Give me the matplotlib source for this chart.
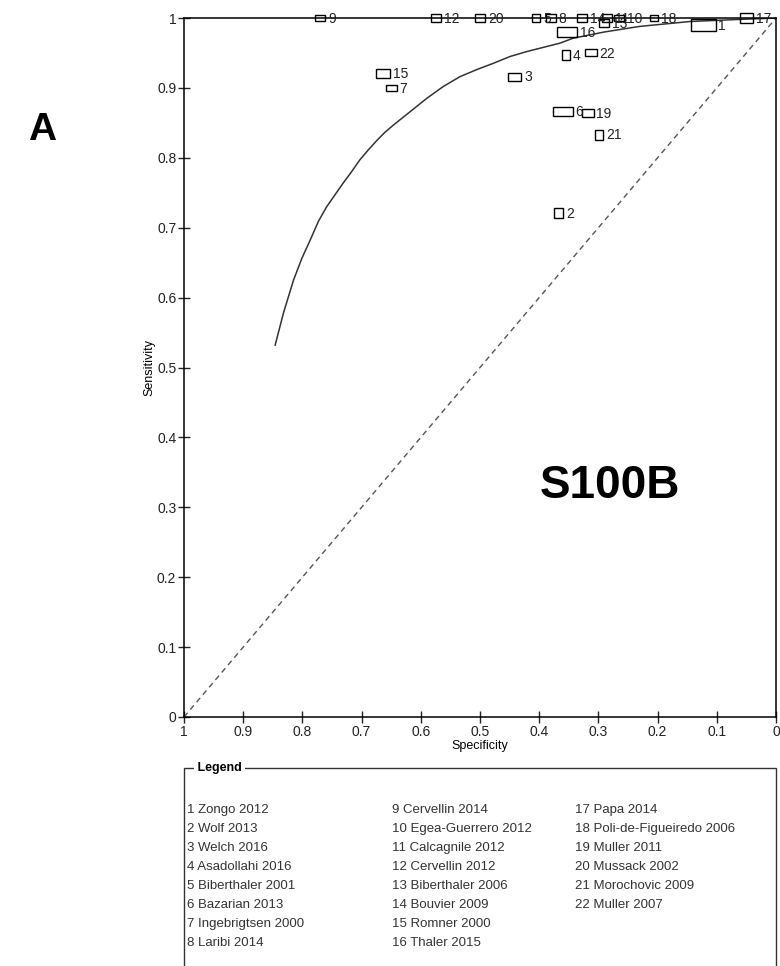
import matplotlib
matplotlib.use("Agg")
import matplotlib.pyplot as plt
from matplotlib.patches import Rectangle

plt.rcParams["font.family"] = ["Liberation Sans", "DejaVu Sans"]

# study estimates
STUDY_IDS = list(range(1, 23))
SPECIFICITY = [0.123, 0.367, 0.441, 0.355, 0.405, 0.360, 0.650, 0.380, 0.770, 0.265, 0.285,
               0.574, 0.290, 0.328, 0.664, 0.353, 0.050, 0.206, 0.318, 0.500, 0.299, 0.313]
SENSITIVITY = [0.990, 0.721, 0.916, 0.947, 1.000, 0.866, 0.900, 1.000, 1.000, 1.000, 1.000,
               1.000, 0.993, 1.000, 0.921, 0.980, 1.000, 1.000, 0.864, 1.000, 0.833, 0.950]
# box extents (study weight along each axis)
WEIGHT_SPEC = [0.042, 0.015, 0.022, 0.014, 0.014, 0.034, 0.019, 0.017, 0.017, 0.017, 0.017,
               0.017, 0.017, 0.017, 0.024, 0.034, 0.022, 0.014, 0.020, 0.017, 0.015, 0.020]
WEIGHT_SENS = [0.017, 0.014, 0.011, 0.014, 0.011, 0.013, 0.009, 0.011, 0.009, 0.010, 0.011,
               0.011, 0.011, 0.011, 0.013, 0.014, 0.014, 0.009, 0.011, 0.011, 0.014, 0.010]

# summary ROC curve
SROC_SPEC = [0.846, 0.832, 0.815, 0.801, 0.787, 0.773, 0.759, 0.745, 0.731, 0.717, 0.703,
             0.689, 0.674, 0.660, 0.646, 0.618, 0.590, 0.562, 0.534, 0.506, 0.478, 0.449,
             0.421, 0.393, 0.365, 0.343, 0.290, 0.230, 0.145, 0.061, 0.0]
SROC_SENS = [0.532, 0.578, 0.625, 0.656, 0.682, 0.709, 0.730, 0.747, 0.764, 0.780, 0.797,
             0.811, 0.825, 0.837, 0.847, 0.866, 0.885, 0.902, 0.916, 0.926, 0.935, 0.945,
             0.952, 0.958, 0.964, 0.971, 0.980, 0.988, 0.995, 0.998, 1.0]

STUDY_NAMES = ["Zongo 2012", "Wolf 2013", "Welch 2016", "Asadollahi 2016", "Biberthaler 2001",
               "Bazarian 2013", "Ingebrigtsen 2000", "Laribi 2014", "Cervellin 2014",
               "Egea-Guerrero 2012", "Calcagnile 2012", "Cervellin 2012", "Biberthaler 2006",
               "Bouvier 2009", "Romner 2000", "Thaler 2015", "Papa 2014",
               "Poli-de-Figueiredo 2006", "Muller 2011", "Mussack 2002", "Morochovic 2009",
               "Muller 2007"]

TICK_LABELS = ["0", "0.1", "0.2", "0.3", "0.4", "0.5", "0.6", "0.7", "0.8", "0.9", "1"]

fig = plt.figure(figsize=(7.8, 9.66), dpi=100)
ax = fig.add_axes([184 / 780, 1 - 717 / 966, 592 / 780, 699 / 966])

ax.plot([1, 0], [0, 1], color="#555555", linestyle=(0, (4, 3)), linewidth=1)
ax.plot(SROC_SPEC, SROC_SENS, color="#333333", linewidth=1.1)

for sid, sp, se, w, h in zip(STUDY_IDS, SPECIFICITY, SENSITIVITY, WEIGHT_SPEC, WEIGHT_SENS):
    ax.add_patch(Rectangle((sp - w / 2, se - h / 2), w, h, facecolor="none",
                           edgecolor="black", linewidth=1, clip_on=False, zorder=3))
    ax.annotate(str(sid), (sp - w / 2, se), xytext=(2, -0.5), textcoords="offset points",
                ha="left", va="center", fontsize=10, color="#222222", zorder=4,
                annotation_clip=False)

ticks = [i / 10 for i in range(11)]
ax.set_xlim(1, 0)
ax.set_ylim(0, 1)
ax.set_xticks(ticks, TICK_LABELS)
ax.set_yticks(ticks, TICK_LABELS)
ax.tick_params(direction="inout", length=9, width=1, labelsize=10, pad=1, colors="#222222")
for s in ax.spines.values():
    s.set_linewidth(1.1)
ax.set_xlabel("Specificity", fontsize=9, labelpad=1)
ax.set_ylabel("Sensitivity", fontsize=9, labelpad=1)

fig.text(28 / 780, 1 - 130 / 966, "A", fontsize=28, fontweight="bold",
         va="center", ha="left")
ax.text(0.28, 0.33, "S100B", fontsize=33, fontweight="bold", ha="center", va="center")

# legend box
fig.add_artist(Rectangle((184 / 780, -0.02), 592 / 780, (966 - 768) / 966 + 0.02,
                         transform=fig.transFigure, facecolor="none",
                         edgecolor="#333333", linewidth=1))
fig.text(194 / 780, 1 - 768 / 966, " Legend ", fontsize=9, fontweight="bold",
         va="center", ha="left", bbox=dict(facecolor="white", edgecolor="none", pad=0))
col_x = [187, 392, 575]
for i, name in enumerate(STUDY_NAMES):
    col, row = divmod(i, 8)
    fig.text(col_x[col] / 780, 1 - (810 + 19 * row) / 966, f"{i + 1} {name}",
             fontsize=9.5, color="#333333", va="center", ha="left")

fig.savefig("out.png", dpi=100)
